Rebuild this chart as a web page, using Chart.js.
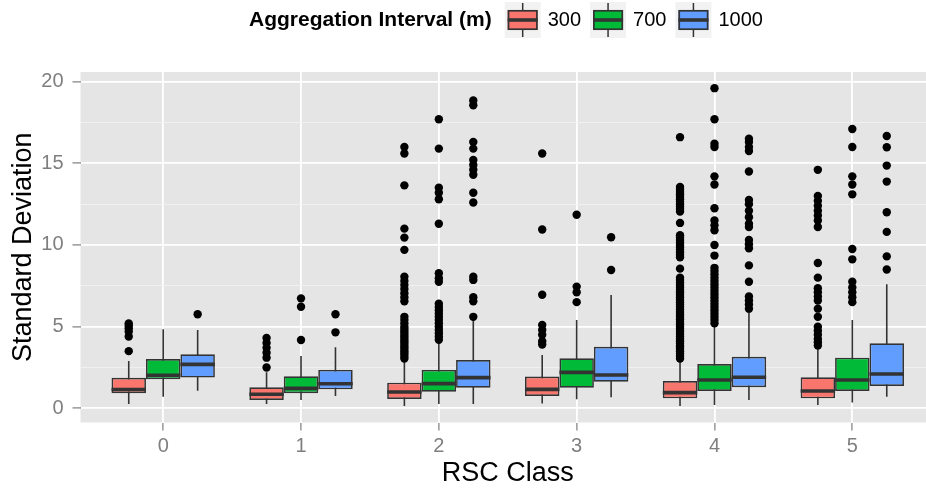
<!DOCTYPE html>
<html>
<head>
<meta charset="utf-8">
<script src="https://cdn.jsdelivr.net/npm/chart.js@4.4.1/dist/chart.umd.min.js"></script>
<style>
  html, body { margin: 0; padding: 0; background: #fff; overflow: hidden; }
  #wrap { width: 944px; height: 491px; }
</style>
</head>
<body>
<div id="wrap"><canvas id="sdChart"></canvas></div>
<script>
// RSC classes on the x axis
const rscClasses = [0, 1, 2, 3, 4, 5];
const classLabels = ['0', '1', '2', '3', '4', '5'];
const intervals = ['300', '700', '1000'];
const colours = ['#F8766D', '#00BA38', '#619CFF'];
const yTicks = [0, 5, 10, 15, 20];
const yMinor = [2.5, 7.5, 12.5, 17.5];

// 300 m
const whiskerLow300 = [0.26, 0.26, 0.14, 0.30, 0.14, 0.20];
const q1_300 = [0.92, 0.51, 0.57, 0.75, 0.61, 0.61];
const median300 = [1.15, 0.86, 1.00, 1.16, 0.96, 1.06];
const q3_300 = [1.87, 1.29, 1.57, 1.94, 1.67, 1.90];
const whiskerHigh300 = [2.90, 2.20, 2.85, 3.26, 2.96, 3.67];
const outliers300 = [
  [5.2, 5.05, 4.9, 4.7, 4.4, 3.5],
  [4.3, 4.0, 3.7, 3.4, 3.1, 2.5],
  [16.0, 15.6, 13.65, 11.0, 10.45, 9.7, 8.05, 7.8, 7.55, 7.3, 7.05, 6.8, 6.55,
   5.6, 5.4, 5.2, 5.0, 4.85, 4.7, 4.55, 4.4, 4.25, 4.1, 3.95, 3.8, 3.65, 3.5, 3.35, 3.2, 3.05],
  [15.6, 10.95, 6.95, 5.1, 4.8, 4.5, 4.1, 3.9],
  [16.6, 13.55, 13.4, 13.25, 13.1, 12.95, 12.8, 12.65, 12.5, 12.35, 12.2, 12.05, 11.35,
   10.6, 10.45, 10.3, 10.15, 10.0, 9.85, 9.7, 9.55, 9.4, 9.25, 8.55, 8.0, 7.85, 7.7, 7.55,
   7.4, 7.25, 7.1, 6.95, 6.8, 6.65, 6.5, 6.35, 6.2, 6.05, 5.9, 5.75, 5.6, 5.45, 5.3, 5.15,
   5.0, 4.85, 4.7, 4.55, 4.4, 4.25, 4.1, 3.95, 3.8, 3.65, 3.5, 3.35, 3.2, 3.05],
  [14.6, 13.0, 12.7, 12.4, 12.1, 11.8, 11.5, 11.1, 8.9, 8.0, 7.35, 7.1, 6.85, 6.6, 6.1,
   5.6, 5.0, 4.75, 4.5, 4.25, 4.05, 3.85]
];

// 700 m
const whiskerLow700 = [0.71, 0.51, 0.26, 0.55, 0.20, 0.35];
const q1_700 = [1.78, 0.92, 1.02, 1.26, 1.06, 1.06];
const median700 = [2.02, 1.22, 1.51, 2.20, 1.73, 1.73];
const q3_700 = [3.02, 1.96, 2.35, 3.06, 2.71, 3.10];
const whiskerHigh700 = [4.84, 3.20, 4.05, 5.40, 5.00, 5.40];
const outliers700 = [
  [],
  [6.73, 6.22, 4.18],
  [17.7, 15.9, 13.5, 13.2, 12.8, 11.3, 8.27, 7.96, 7.75, 6.4, 6.2, 6.0, 5.8, 5.6, 5.4,
   5.2, 5.0, 4.8, 4.6, 4.4, 4.2],
  [11.85, 7.45, 7.1, 6.5],
  [19.6, 17.7, 16.2, 16.0, 14.2, 13.7, 12.25, 11.5, 11.2, 10.9, 10.0, 9.35, 8.6, 8.4, 8.2,
   8.0, 7.8, 7.6, 7.4, 7.2, 7.0, 6.8, 6.6, 6.4, 6.2, 6.0, 5.8, 5.6, 5.4, 5.2],
  [17.1, 16.0, 14.2, 13.7, 13.1, 9.75, 9.12, 7.75, 7.4, 7.1, 6.8, 6.5]
];

// 1000 m
const whiskerLow1000 = [1.08, 0.75, 0.26, 0.67, 0.51, 0.71];
const q1_1000 = [1.88, 1.16, 1.26, 1.63, 1.29, 1.37];
const median1000 = [2.69, 1.50, 1.88, 2.04, 1.90, 2.10];
const q3_1000 = [3.31, 2.35, 2.96, 3.77, 3.16, 3.98];
const whiskerHigh1000 = [4.79, 3.73, 5.45, 6.94, 6.02, 7.60];
const outliers1000 = [
  [5.76],
  [5.76, 4.65],
  [18.85, 18.55, 16.3, 15.9, 15.2, 14.9, 14.6, 14.3, 13.2, 12.6, 8.06, 7.86, 6.8, 6.55, 5.6],
  [10.47, 8.47],
  [16.5, 16.3, 16.0, 15.75, 14.5, 12.75, 12.5, 12.1, 11.7, 11.3, 11.1, 10.3, 10.05, 9.8,
   8.75, 7.75, 6.85, 6.6, 6.35, 6.1],
  [16.67, 15.98, 14.86, 13.88, 12.0, 10.8, 9.3, 8.5]
];

const series = [
  { low: whiskerLow300, q1: q1_300, med: median300, q3: q3_300, high: whiskerHigh300, out: outliers300 },
  { low: whiskerLow700, q1: q1_700, med: median700, q3: q3_700, high: whiskerHigh700, out: outliers700 },
  { low: whiskerLow1000, q1: q1_1000, med: median1000, q3: q3_1000, high: whiskerHigh1000, out: outliers1000 }
];

const dodge = 0.75;
const boxWidth = dodge / intervals.length;
const shift = k => (k - (intervals.length - 1) / 2) * boxWidth;
const font = '"Liberation Sans", Arial, sans-serif';
const dark = '#333333';

Chart.defaults.font.family = font;

const datasets = [];
series.forEach((s, k) => {
  const whiskers = [];
  rscClasses.forEach((c, i) => {
    whiskers.push({ x: c + shift(k), y: s.low[i] }, { x: c + shift(k), y: s.high[i] }, { x: c + shift(k), y: null });
  });
  datasets.push({
    type: 'line', data: whiskers, borderColor: dark, borderWidth: 1.6,
    pointRadius: 0, spanGaps: false, order: 3
  });
  datasets.push({
    type: 'bar', label: intervals[k],
    data: rscClasses.map((c, i) => ({ x: c, y: [s.q1[i], s.q3[i]] })),
    backgroundColor: colours[k], borderColor: dark, borderWidth: 1.7, borderSkipped: false,
    categoryPercentage: dodge, barPercentage: 1, order: 2
  });
  datasets.push({
    type: 'scatter', data: rscClasses.map((c, i) => ({ x: c + shift(k), y: s.med[i] })),
    pointStyle: 'line', borderColor: dark, pointBorderWidth: 3.6,
    pointRadius: ctx => {
      const xs = ctx.chart.scales.x;
      return xs.getPixelForValue(boxWidth / 2) - xs.getPixelForValue(0);
    },
    order: 1
  });
  const pts = [];
  rscClasses.forEach((c, i) => s.out[i].forEach(v => pts.push({ x: c + shift(k), y: v })));
  datasets.push({
    type: 'scatter', data: pts, pointRadius: 4.2, pointBorderWidth: 0,
    backgroundColor: '#000000', borderColor: '#000000', order: 0
  });
});

const panelBg = {
  id: 'panelBg',
  beforeDraw(chart) {
    const { ctx, chartArea: a } = chart;
    ctx.save();
    ctx.fillStyle = '#E5E5E5';
    ctx.fillRect(a.left, a.top, a.right - a.left, a.bottom - a.top);
    ctx.restore();
  }
};

// ggplot style legend along the top
const topLegend = {
  id: 'topLegend',
  afterDraw(chart) {
    const ctx = chart.ctx;
    const cy = 20;
    ctx.save();
    ctx.textBaseline = 'middle';
    ctx.textAlign = 'left';
    ctx.fillStyle = '#000';
    ctx.font = 'bold 21px ' + font;
    const title = 'Aggregation Interval (m)';
    ctx.fillText(title, 249, cy);
    let x = 249 + ctx.measureText(title).width + 13;
    ctx.font = '20px ' + font;
    intervals.forEach((lab, k) => {
      ctx.fillStyle = '#F2F2F2';
      ctx.fillRect(x, cy - 18, 36, 36);
      ctx.strokeStyle = dark;
      ctx.lineWidth = 1.5;
      ctx.beginPath();
      ctx.moveTo(x + 18, cy - 17); ctx.lineTo(x + 18, cy + 17);
      ctx.stroke();
      ctx.fillStyle = colours[k];
      ctx.fillRect(x + 3, cy - 10, 30, 20);
      ctx.lineWidth = 1.7;
      ctx.strokeRect(x + 3.8, cy - 9.2, 28.4, 18.4);
      ctx.lineWidth = 3.6;
      ctx.beginPath();
      ctx.moveTo(x + 3, cy); ctx.lineTo(x + 33, cy);
      ctx.stroke();
      ctx.fillStyle = '#000';
      ctx.fillText(lab, x + 43, cy);
      x += 43 + ctx.measureText(lab).width + 9;
    });
    ctx.restore();
  }
};

new Chart(document.getElementById('sdChart'), {
  type: 'bar',
  data: { datasets },
  options: {
    responsive: true,
    maintainAspectRatio: false,
    animation: false,
    events: [],
    layout: { padding: { top: 72, right: 9, left: 0, bottom: 0 } },
    plugins: { legend: { display: false }, tooltip: { enabled: false } },
    scales: {
      x: {
        type: 'linear', min: -0.6, max: 5.6, offset: false,
        afterBuildTicks: s => { s.ticks = rscClasses.map(v => ({ value: v })); },
        afterFit: s => { s.height = 68.5; },
        ticks: {
          autoSkip: false, maxRotation: 0, color: '#7F7F7F', font: { size: 20 }, padding: 4,
          callback: v => classLabels[rscClasses.indexOf(v)] ?? ''
        },
        grid: { offset: false, color: '#FFFFFF', lineWidth: 1.8, tickColor: '#7F7F7F', tickLength: 8, tickWidth: 1.2 },
        border: { display: false },
        title: { display: true, text: 'RSC Class', color: '#000', font: { size: 27 }, padding: { top: 0, bottom: 1 } }
      },
      y: {
        type: 'linear', min: -0.87, max: 20.59,
        afterBuildTicks: s => {
          s.ticks = yTicks.concat(yMinor).sort((a, b) => a - b).map(v => ({ value: v }));
        },
        afterFit: s => { s.width = 80.5; },
        ticks: {
          autoSkip: false, color: '#7F7F7F', font: { size: 20 }, padding: 9,
          callback: v => yTicks.includes(v) ? String(v) : ''
        },
        grid: {
          color: c => yTicks.includes(c.tick.value) ? '#FFFFFF' : '#F2F2F2',
          lineWidth: c => yTicks.includes(c.tick.value) ? 1.8 : 0.9,
          tickColor: c => yTicks.includes(c.tick.value) ? '#7F7F7F' : 'rgba(0,0,0,0)',
          tickLength: 8, tickWidth: 1.2
        },
        border: { display: false },
        title: { display: true, text: 'Standard Deviation', color: '#000', font: { size: 27 }, padding: { top: 7, bottom: 0 } }
      }
    }
  },
  plugins: [panelBg, topLegend]
});
</script>
</body>
</html>
